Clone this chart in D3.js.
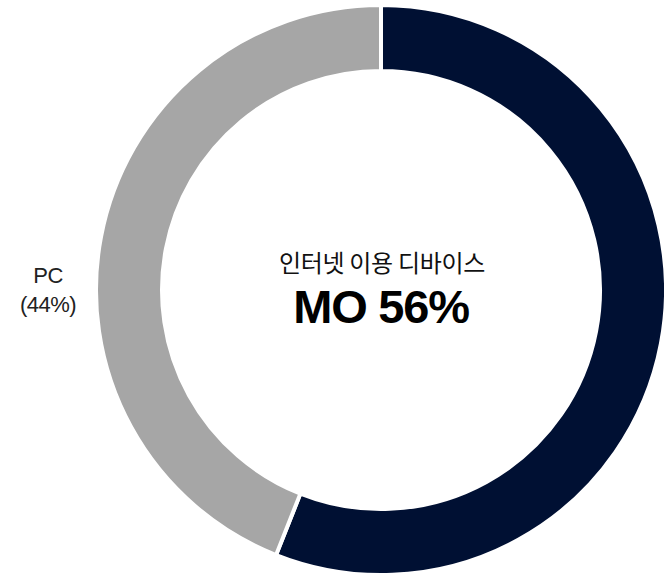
<!DOCTYPE html>
<html>
<head>
<meta charset="utf-8">
<script src="https://cdn.jsdelivr.net/npm/d3@7"></script>
<style>
  body { margin: 0; background: #fff; }
  text { font-family: "Liberation Sans", "Noto Sans CJK KR", sans-serif; }
</style>
</head>
<body>
<div id="chart"></div>
<script>
// Chart data
const devices = ["MO", "PC"];
const shares = [56, 44];
const colors = ["#001033", "#a6a6a6"];
const centerTitle = "인터넷 이용 디바이스";

const width = 664, height = 574;
const cx = 381, cy = 290;
const outerR = 285, innerR = 219;

const data = devices.map((d, i) => ({device: d, value: shares[i], color: colors[i]}));

const svg = d3.select("#chart")
    .append("svg")
    .attr("width", width)
    .attr("height", height);

const g = svg.append("g")
    .attr("transform", "translate(" + cx + "," + cy + ")");

// Pie layout, clockwise from 12 o'clock
const pie = d3.pie()
    .sort(null)
    .value(d => d.value);

const arc = d3.arc()
    .innerRadius(innerR)
    .outerRadius(outerR);

g.selectAll("path")
    .data(pie(data))
    .enter()
    .append("path")
    .attr("d", arc)
    .attr("fill", d => d.data.color)
    .attr("stroke", "#fff")
    .attr("stroke-width", 4);

// Outside label for PC (MO label falls outside the frame)
const pcSlice = pie(data)[1];

const pcLabel = g.append("text")
    .attr("text-anchor", "middle")
    .attr("fill", "#222")
    .style("font-size", "22px")
    .style("letter-spacing", "-0.5px");
pcLabel.append("tspan")
    .attr("x", -333)
    .attr("y", -7)
    .text(pcSlice.data.device);
pcLabel.append("tspan")
    .attr("x", -333)
    .attr("y", 22)
    .text("(" + pcSlice.data.value + "%)");

// Center text
g.append("text")
    .attr("text-anchor", "middle")
    .attr("x", 1)
    .attr("y", -18)
    .attr("fill", "#111")
    .style("font-family", "'Noto Sans CJK KR', sans-serif")
    .style("font-size", "24px")
    .style("letter-spacing", "-0.3px")
    .text(centerTitle);

g.append("text")
    .attr("text-anchor", "middle")
    .attr("y", 33)
    .attr("fill", "#000")
    .style("font-size", "47px")
    .style("font-weight", "bold")
    .style("letter-spacing", "-1.2px")
    .text(devices[0] + " " + shares[0] + "%");
</script>
</body>
</html>
